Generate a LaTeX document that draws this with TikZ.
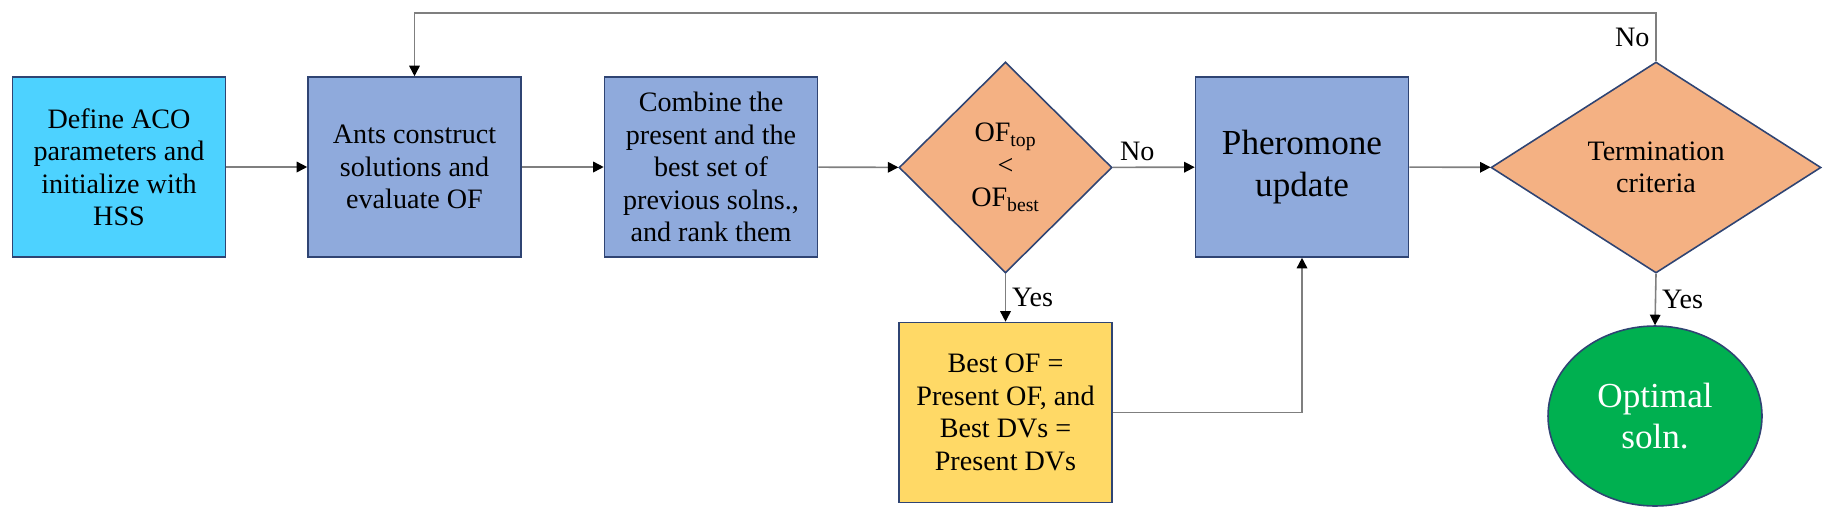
\documentclass[tikz,border=0pt]{standalone}
\usepackage{fontspec}
\setmainfont{Liberation Serif}
\newfontfamily\timesfont{Liberation Serif}
\usetikzlibrary{shapes.geometric,arrows.meta}

\definecolor{cyanbox}{HTML}{4DD2FF}
\definecolor{bluebox}{HTML}{8FAADC}
\definecolor{orangebox}{HTML}{F4B183}
\definecolor{yellowbox}{HTML}{FFD966}
\definecolor{greenbox}{HTML}{00B050}
\definecolor{edge}{HTML}{2F4473}
\definecolor{wire}{HTML}{7F7F7F}

\tikzstyle{txt} = [font=\timesfont\fontsize{16}{18.5}\selectfont]
\tikzstyle{blk} = [txt, draw=edge, line width=0.9pt, minimum width=4.26cm, minimum height=3.6cm, align=center, inner sep=2pt]
\tikzstyle{dec} = [txt, diamond, draw=edge, line width=0.9pt, fill=orangebox, align=center, inner sep=0pt, minimum height=4.22cm]
\tikzstyle{arw} = [-{Triangle[black,length=6pt,width=6pt]}, draw=wire, line width=0.9pt]

\begin{document}
\begin{tikzpicture}
\useasboundingbox (0,0) rectangle (36.64,-10.38);

\node[blk, fill=cyanbox] (init) at (2.38,-3.34) {Define ACO\\parameters and\\initialize with\\HSS};
\node[blk, fill=bluebox] (ants) at (8.29,-3.34) {Ants construct\\solutions and\\evaluate OF};
\node[blk, fill=bluebox] (rank) at (14.22,-3.34) {Combine the\\present and the\\best set of\\previous solns.,\\and rank them};
\node[dec, minimum width=4.26cm] (cmp) at (20.11,-3.35) {OF\textsubscript{top}\\<\\OF\textsubscript{best}};
\node[blk, fill=bluebox, font=\timesfont\fontsize{20}{23.5}\selectfont] (pher) at (26.04,-3.34) {Pheromone\\update};
\node[dec, minimum width=6.6cm] (term) at (33.12,-3.35) {Termination\\criteria};
\node[blk, fill=yellowbox] (best) at (20.11,-8.25) {Best OF =\\Present OF, and\\Best DVs =\\Present DVs};
\node[ellipse, draw=edge, line width=0.9pt, fill=greenbox, minimum width=4.28cm, minimum height=3.6cm,
      text=white, align=center, font=\timesfont\fontsize{20}{23.5}\selectfont] (opt) at (33.1,-8.32) {Optimal\\soln.};

\draw[arw] (init) -- (ants);
\draw[arw] (ants) -- (rank);
\draw[arw] (rank) -- (cmp);
\draw[arw] (cmp) -- node[txt, above, pos=0.3] {No} (pher);
\draw[arw] (cmp.south) -- node[txt, right] {Yes} (best.north);
\draw[arw] (best.east) -| (pher.south);
\draw[arw] (pher) -- (term);
\draw[arw] (term.south) -- node[txt, right] {Yes} (opt.north);
\draw[arw] (term.north) -- node[txt, left] {No} ++(0,0.96) -| (ants.north);

\end{tikzpicture}
\end{document}
